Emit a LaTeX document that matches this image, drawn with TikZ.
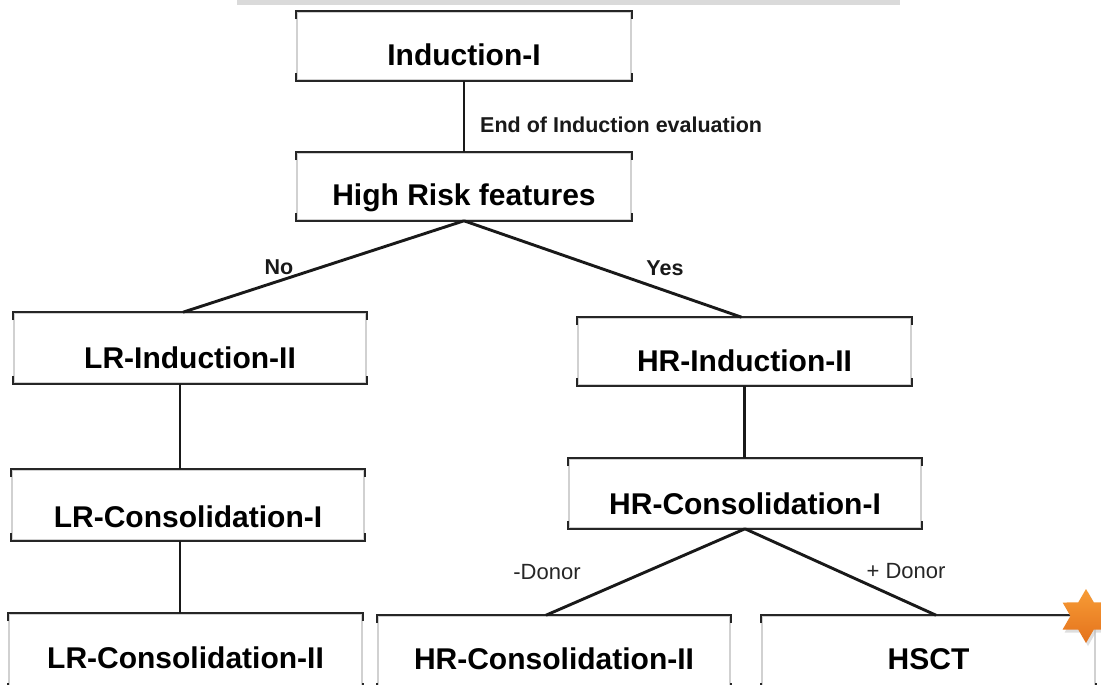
\documentclass[tikz,border=0pt]{standalone}
\usepackage{fontspec}
\setmainfont{Liberation Sans}
\usetikzlibrary{shapes.geometric}
\definecolor{starTop}{HTML}{F79C36}
\definecolor{starBot}{HTML}{E4721C}
\definecolor{barGray}{HTML}{DADADA}
\begin{document}
\begin{tikzpicture}[x=1pt,y=-1pt,
  box/.style={draw=black!18, line width=1.6pt, fill=white, inner sep=0pt,
    font=\fontsize{30}{30}\selectfont\bfseries},
  conn/.style={line width=2.9pt, black!90},
  edgeline/.style={line width=2.5pt, black!85, line join=miter},
  lbl/.style={font=\fontsize{21.5}{22}\selectfont\bfseries, inner sep=0pt, text=black!90},
  dlbl/.style={font=\fontsize{22}{22}\selectfont, inner sep=0pt, text=black!85}]
\useasboundingbox (0,0) rectangle (1101,685);
\clip (0,0) rectangle (1101,685);
\fill[white] (0,0) rectangle (1101,685);
\fill[barGray] (237,0) rectangle (900,5);

% boxes
\node[box, minimum width=334pt, text height=54pt, text depth=14pt] (ind1) at (464,46) {Induction-I};
\node[box, minimum width=334pt, text height=52pt, text depth=15pt] (hrf) at (464,186.5) {High Risk features};
\node[box, minimum width=352pt, text height=55pt, text depth=15pt] (lr1) at (190,348) {LR-Induction-II};
\node[box, minimum width=333pt, text height=53pt, text depth=14pt] (hr1) at (744.5,351.5) {HR-Induction-II};
\node[box, minimum width=352pt, text height=57pt, text depth=13pt] (lrc1) at (188,505) {LR-Consolidation-I};
\node[box, minimum width=352pt, text height=55pt, text depth=14pt] (hrc1) at (745,493.5) {HR-Consolidation-I};
\node[box, minimum width=353pt, text height=54pt, text depth=22pt] (lrc2) at (185.5,652) {LR-Consolidation-II};
\node[box, minimum width=352pt, text height=53pt, text depth=21pt] (hrc2) at (554,653) {HR-Consolidation-II};
\node[box, minimum width=333pt, text height=53pt, text depth=21pt] (hsct) at (928.5,653) {HSCT};

% dark top/bottom edges with corner ticks
\foreach \n in {ind1,hrf,lr1,hr1,lrc1,hrc1,lrc2,hrc2,hsct}{
  \draw[edgeline] ([yshift=-8pt]\n.north west) -- (\n.north west) -- (\n.north east) -- ([yshift=-8pt]\n.north east);
  \draw[edgeline] ([yshift=8pt]\n.south west) -- (\n.south west) -- (\n.south east) -- ([yshift=8pt]\n.south east);
}

% connectors
\draw[conn] (ind1.south) -- (hrf.north);
\draw[conn] (hrf.south) -- ([xshift=-7pt]lr1.north);
\draw[conn] (hrf.south) -- ([xshift=-3pt]hr1.north);
\draw[conn] ([xshift=-10pt]lr1.south) -- ([xshift=-8pt]lrc1.north);
\draw[conn] ([xshift=-8pt]lrc1.south) -- ([xshift=-5.5pt]lrc2.north);
\draw[conn] (hr1.south) -- (hr1.south |- hrc1.north);
\draw[conn] (hrc1.south) -- ([xshift=-8pt]hrc2.north);
\draw[conn] (hrc1.south) -- ([xshift=7.5pt]hsct.north);

% labels
\node[lbl, anchor=west] (lend) at (480,125) {End of Induction evaluation};
\node[lbl] (lno) at (279,267) {No};
\node[lbl] (lyes) at (665,268) {Yes};
\node[dlbl] (lmd) at (547,572) {-Donor};
\node[dlbl] (lpd) at (906,571) {+ Donor};

% star
\node[star, star points=6, star point ratio=1.73, minimum size=54pt, inner sep=0pt,
  fill=black!25, opacity=0.5, draw=none] at (1088,619) {};
\node[star, star points=6, star point ratio=1.73, minimum size=54pt, inner sep=0pt,
  top color=starTop, bottom color=starBot, draw=none] (star) at (1086,616) {};
\end{tikzpicture}
\end{document}
